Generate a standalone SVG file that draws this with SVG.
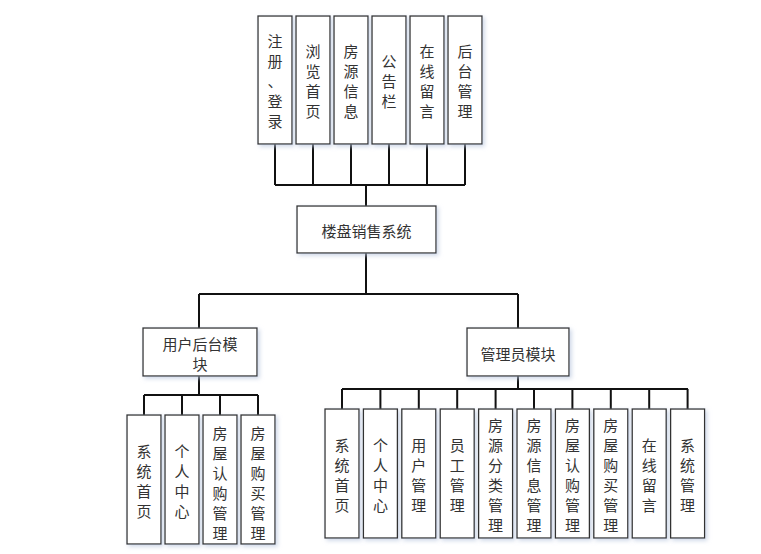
<svg xmlns="http://www.w3.org/2000/svg" width="761" height="554" viewBox="0 0 761 554">
<style>
.box{fill:#fff;stroke:#333;stroke-width:1.3;filter:url(#sh)}
.t{font-family:"Noto Sans CJK SC","Microsoft YaHei",sans-serif;font-size:15px;fill:#333;text-anchor:middle;dominant-baseline:central}
.ln{fill:none;stroke:#111;stroke-width:2}
</style>
<defs>
<filter id="sh" x="-30%" y="-30%" width="160%" height="160%">
<feDropShadow dx="2" dy="2" stdDeviation="2" flood-color="#b8c6de" flood-opacity="0.7"/>
</filter>
</defs>
<rect width="761" height="554" fill="#fff"/>
<g id="connectors" class="ln">
<path d="M275 144V185M313 144V185M351 144V185M389 144V185M427 144V185M465 144V185M275 185H465M366 185V206"/>
<path d="M366 253V294M199 294H518M199 294V328M518 294V328"/>
<path d="M199 376V395M144 395H258M144 395V415M182 395V415M220 395V415M258 395V415"/>
<path d="M518 376V389M342 389H688M342 389V409M380.4 389V409M418.8 389V409M457.2 389V409M495.6 389V409M534 389V409M572.4 389V409M610.8 389V409M649.2 389V409M687.6 389V409"/>
</g>
<g id="top1"><rect class="box" x="258" y="16" width="34" height="128"/><text class="t"><tspan x="275" y="40">注</tspan><tspan x="275" y="60">册</tspan><tspan x="275" y="80">、</tspan><tspan x="275" y="100">登</tspan><tspan x="275" y="120">录</tspan></text></g>
<g id="top2"><rect class="box" x="296" y="16" width="34" height="128"/><text class="t"><tspan x="313" y="50">浏</tspan><tspan x="313" y="70">览</tspan><tspan x="313" y="90">首</tspan><tspan x="313" y="110">页</tspan></text></g>
<g id="top3"><rect class="box" x="334" y="16" width="34" height="128"/><text class="t"><tspan x="351" y="50">房</tspan><tspan x="351" y="70">源</tspan><tspan x="351" y="90">信</tspan><tspan x="351" y="110">息</tspan></text></g>
<g id="top4"><rect class="box" x="372" y="16" width="34" height="128"/><text class="t"><tspan x="389" y="60">公</tspan><tspan x="389" y="80">告</tspan><tspan x="389" y="100">栏</tspan></text></g>
<g id="top5"><rect class="box" x="410" y="16" width="34" height="128"/><text class="t"><tspan x="427" y="50">在</tspan><tspan x="427" y="70">线</tspan><tspan x="427" y="90">留</tspan><tspan x="427" y="110">言</tspan></text></g>
<g id="top6"><rect class="box" x="448" y="16" width="34" height="128"/><text class="t"><tspan x="465" y="50">后</tspan><tspan x="465" y="70">台</tspan><tspan x="465" y="90">管</tspan><tspan x="465" y="110">理</tspan></text></g>
<g id="main"><rect class="box" x="297" y="206" width="139" height="47"/><text class="t" x="366.5" y="230">楼盘销售系统</text></g>
<g id="user"><rect class="box" x="143" y="328" width="114" height="48"/><text class="t"><tspan x="200" y="343">用户后台模</tspan><tspan x="200" y="363">块</tspan></text></g>
<g id="admin"><rect class="box" x="467" y="328" width="102" height="48"/><text class="t" x="518" y="353">管理员模块</text></g>
<g id="u1"><rect class="box" x="127" y="415" width="34" height="129"/><text class="t"><tspan x="144" y="450">系</tspan><tspan x="144" y="470">统</tspan><tspan x="144" y="490">首</tspan><tspan x="144" y="510">页</tspan></text></g>
<g id="u2"><rect class="box" x="165" y="415" width="34" height="129"/><text class="t"><tspan x="182" y="450">个</tspan><tspan x="182" y="470">人</tspan><tspan x="182" y="490">中</tspan><tspan x="182" y="510">心</tspan></text></g>
<g id="u3"><rect class="box" x="203" y="415" width="34" height="129"/><text class="t"><tspan x="220" y="432">房</tspan><tspan x="220" y="452">屋</tspan><tspan x="220" y="472">认</tspan><tspan x="220" y="492">购</tspan><tspan x="220" y="512">管</tspan><tspan x="220" y="532">理</tspan></text></g>
<g id="u4"><rect class="box" x="241" y="415" width="34" height="129"/><text class="t"><tspan x="258" y="432">房</tspan><tspan x="258" y="452">屋</tspan><tspan x="258" y="472">购</tspan><tspan x="258" y="492">买</tspan><tspan x="258" y="512">管</tspan><tspan x="258" y="532">理</tspan></text></g>
<g id="a1"><rect class="box" x="325" y="409" width="34" height="129"/><text class="t"><tspan x="342" y="444">系</tspan><tspan x="342" y="464">统</tspan><tspan x="342" y="484">首</tspan><tspan x="342" y="504">页</tspan></text></g>
<g id="a2"><rect class="box" x="363.4" y="409" width="34" height="129"/><text class="t"><tspan x="380.4" y="444">个</tspan><tspan x="380.4" y="464">人</tspan><tspan x="380.4" y="484">中</tspan><tspan x="380.4" y="504">心</tspan></text></g>
<g id="a3"><rect class="box" x="401.8" y="409" width="34" height="129"/><text class="t"><tspan x="418.8" y="444">用</tspan><tspan x="418.8" y="464">户</tspan><tspan x="418.8" y="484">管</tspan><tspan x="418.8" y="504">理</tspan></text></g>
<g id="a4"><rect class="box" x="440.2" y="409" width="34" height="129"/><text class="t"><tspan x="457.2" y="444">员</tspan><tspan x="457.2" y="464">工</tspan><tspan x="457.2" y="484">管</tspan><tspan x="457.2" y="504">理</tspan></text></g>
<g id="a5"><rect class="box" x="478.6" y="409" width="34" height="129"/><text class="t"><tspan x="495.6" y="424">房</tspan><tspan x="495.6" y="444">源</tspan><tspan x="495.6" y="464">分</tspan><tspan x="495.6" y="484">类</tspan><tspan x="495.6" y="504">管</tspan><tspan x="495.6" y="524">理</tspan></text></g>
<g id="a6"><rect class="box" x="517" y="409" width="34" height="129"/><text class="t"><tspan x="534" y="424">房</tspan><tspan x="534" y="444">源</tspan><tspan x="534" y="464">信</tspan><tspan x="534" y="484">息</tspan><tspan x="534" y="504">管</tspan><tspan x="534" y="524">理</tspan></text></g>
<g id="a7"><rect class="box" x="555.4" y="409" width="34" height="129"/><text class="t"><tspan x="572.4" y="424">房</tspan><tspan x="572.4" y="444">屋</tspan><tspan x="572.4" y="464">认</tspan><tspan x="572.4" y="484">购</tspan><tspan x="572.4" y="504">管</tspan><tspan x="572.4" y="524">理</tspan></text></g>
<g id="a8"><rect class="box" x="593.8" y="409" width="34" height="129"/><text class="t"><tspan x="610.8" y="424">房</tspan><tspan x="610.8" y="444">屋</tspan><tspan x="610.8" y="464">购</tspan><tspan x="610.8" y="484">买</tspan><tspan x="610.8" y="504">管</tspan><tspan x="610.8" y="524">理</tspan></text></g>
<g id="a9"><rect class="box" x="632.2" y="409" width="34" height="129"/><text class="t"><tspan x="649.2" y="444">在</tspan><tspan x="649.2" y="464">线</tspan><tspan x="649.2" y="484">留</tspan><tspan x="649.2" y="504">言</tspan></text></g>
<g id="a10"><rect class="box" x="670.6" y="409" width="34" height="129"/><text class="t"><tspan x="687.6" y="444">系</tspan><tspan x="687.6" y="464">统</tspan><tspan x="687.6" y="484">管</tspan><tspan x="687.6" y="504">理</tspan></text></g>
</svg>
